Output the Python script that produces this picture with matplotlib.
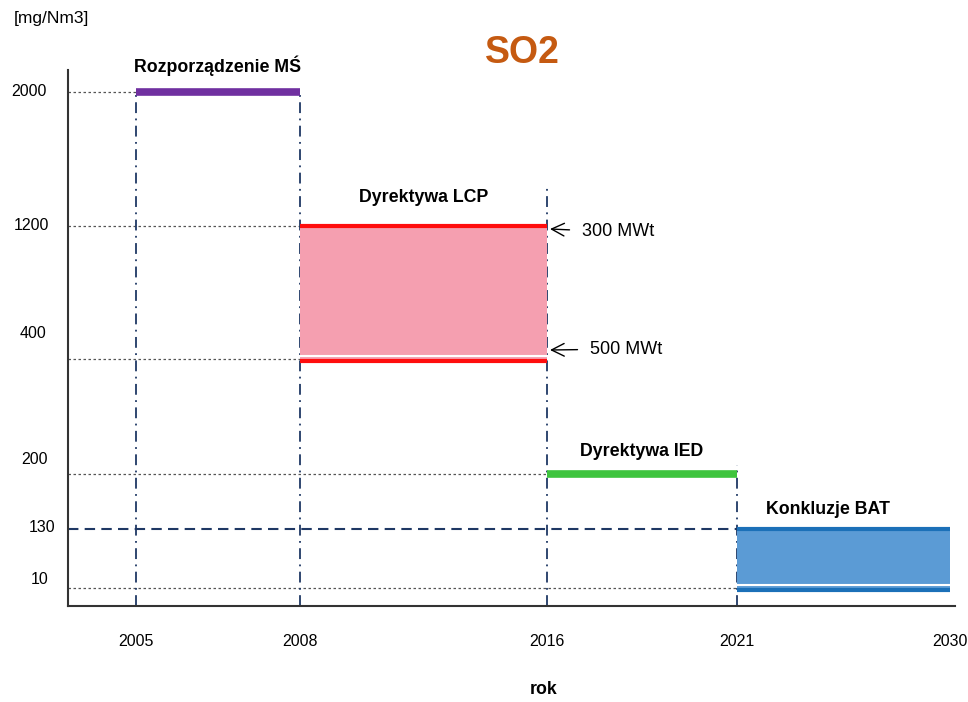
import numpy as np
import matplotlib.pyplot as plt
from matplotlib.transforms import offset_copy

plt.rcParams['font.family'] = ['Liberation Sans', 'DejaVu Sans']

# --- data ---
programs = ['Rozporządzenie MŚ', 'Dyrektywa LCP', 'Dyrektywa IED', 'Konkluzje BAT']
start_year = [2005, 2008, 2016, 2021]
end_year = [2008, 2016, 2021, 2030]
upper = [2000, 1200, 200, 130]
lower = [2000, 400, 200, 10]
line_colors = ['#7030a0', '#ff0d0d', '#3ec43e', '#1b70b8']
fill_colors = [None, '#f59fb0', None, '#5b9bd5']
year_ticks = [2005, 2008, 2016, 2021, 2030]
value_ticks = [2000, 1200, 400, 200, 130, 10]
vline_years = [2005, 2008, 2016, 2021]
vline_tops = [2000, 2000, 1450, 215]
notes = ['300 MWt', '500 MWt']   # LCP upper / lower limit

# schematic, non-linear axes (value -> position)
x_years = [2003, 2005, 2008, 2016, 2021, 2030, 2031]
x_pos = [0, 68, 232, 479, 669, 882, 887]
y_vals = [0, 10, 130, 200, 400, 1200, 2000, 2200]
y_pos = [0, 18, 77, 132, 247, 380, 514, 536]

fig = plt.figure(figsize=(9.68, 7.02), dpi=100)
ax = fig.add_axes([68/968, 96/702, 887/968, 536/702])
ax.set_xscale('function', functions=(lambda v: np.interp(v, x_years, x_pos),
                                     lambda p: np.interp(p, x_pos, x_years)))
ax.set_yscale('function', functions=(lambda v: np.interp(v, y_vals, y_pos),
                                     lambda p: np.interp(p, y_pos, y_vals)))
ax.set_xlim(2003, 2031)
ax.set_ylim(0, 2200)

def shifted(dy, dx=0):
    return offset_copy(ax.transData, fig=fig, x=dx, y=dy, units='dots')

# guide lines to the y axis
for i in range(len(programs)):
    for v in sorted(set([upper[i], lower[i]])):
        if i == 3 and v == upper[i]:
            ax.hlines(v, 2003, start_year[i], color='#1f3864', lw=1.5,
                      linestyle=(0, (5, 3)), zorder=2)
        else:
            ax.hlines(v, 2003, start_year[i], color='#555555', lw=0.9,
                      linestyle=(0, (2, 2)), zorder=2)

# vertical dash-dot lines
for yr, top in zip(vline_years, vline_tops):
    ax.vlines(yr, 0, top, color='#1f3864', lw=1.3,
              linestyle=(0, (6, 3, 1, 3)), zorder=2)

# limit bands
for i in range(len(programs)):
    xs = [start_year[i], end_year[i]]
    if fill_colors[i] is None:
        ax.plot(xs, [upper[i]] * 2, color=line_colors[i], lw=5.5,
                solid_capstyle='butt', zorder=4)
    else:
        ax.fill_between(xs, lower[i], upper[i], color=fill_colors[i], lw=0, zorder=3)
        ax.plot(xs, [upper[i]] * 2, color=line_colors[i], lw=3,
                solid_capstyle='butt', zorder=4)
        ax.plot(xs, [lower[i]] * 2, color='white', lw=1.5,
                transform=shifted(3), zorder=4)
        ax.plot(xs, [lower[i]] * 2, color=line_colors[i], lw=3,
                transform=shifted(-2), solid_capstyle='butt', zorder=4)

# band labels
label_dx = [0, 0, 0, -15]
label_dy = [26, 29, 23, 19]
for i, name in enumerate(programs):
    ax.annotate(name, xy=((start_year[i] + end_year[i]) / 2, upper[i]),
                xytext=(label_dx[i], label_dy[i]), textcoords='offset pixels',
                ha='center', va='center', fontsize=12.8, fontweight='bold')

# capacity notes with arrows
arrow = dict(arrowstyle='->,head_length=0.7,head_width=0.35', color='black',
             lw=1.0, shrinkA=7, shrinkB=0)
ax.annotate(notes[0], xy=(2016, upper[1]), xycoords=shifted(-3, 3),
            xytext=(32, -3), textcoords='offset pixels', ha='left', va='center',
            fontsize=13, arrowprops=arrow)
ax.annotate(notes[1], xy=(2016, lower[1]), xycoords=shifted(9, 3),
            xytext=(40, 1), textcoords='offset pixels', ha='left', va='center',
            fontsize=13, arrowprops=arrow)

# y value labels
label_dx_y = [-39, -37, -35, -33, -26, -28]
label_dy_y = [0, 0, 26, 14, 1, 8]
for v, dx, dy in zip(value_ticks, label_dx_y, label_dy_y):
    ax.annotate(str(v), xy=(0, v), xycoords=ax.get_yaxis_transform(),
                xytext=(dx, dy), textcoords='offset pixels',
                ha='center', va='center', fontsize=11.5)

ax.set_yticks([])
ax.set_xticks(year_ticks)
ax.set_xticklabels([str(y) for y in year_ticks])
ax.tick_params(axis='x', length=0, pad=20, labelsize=11.5)

for s in ['top', 'right']:
    ax.spines[s].set_visible(False)
for s in ['left', 'bottom']:
    ax.spines[s].set_color('#333333')
    ax.spines[s].set_linewidth(1.5)

fig.text(522/968, 1 - 53/702, 'SO2', color='#c55a11', fontsize=27,
         fontweight='bold', ha='center', va='center')
fig.text(51/968, 1 - 18/702, '[mg/Nm3]', fontsize=12.5, ha='center', va='center')
fig.text(544/968, 1 - 690/702, 'rok', fontsize=12.8, fontweight='bold',
         ha='center', va='center')

fig.savefig('out.png', dpi=100)
